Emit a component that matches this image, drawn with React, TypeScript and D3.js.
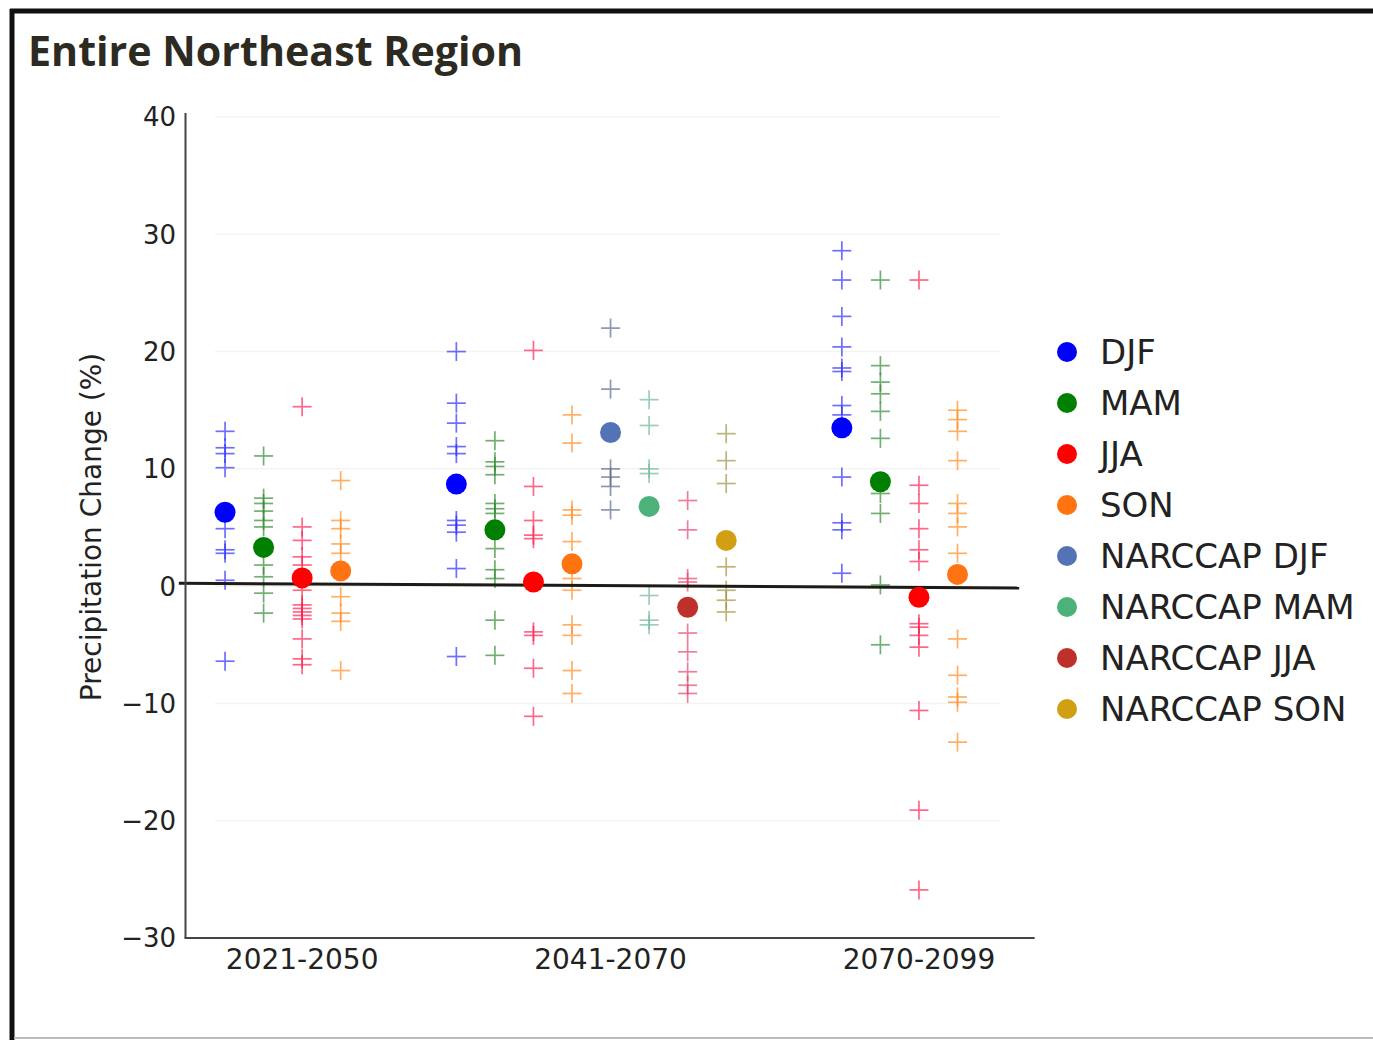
import React from "react";
import * as d3 from "d3";

const periods = ["2021-2050", "2041-2070", "2070-2099"];
const seriesNames = ["DJF", "MAM", "JJA", "SON", "NARCCAP DJF", "NARCCAP MAM", "NARCCAP JJA", "NARCCAP SON"];
const dotColors = ["#0000ff", "#008000", "#ff0000", "#ff7410", "#5473b6", "#4cb27a", "#c0302a", "#d0a012"];
const plusColors = ["#2a2aff", "#2e8a2e", "#ff1f4f", "#ff8a1e", "#5a6488", "#6fb896", "#e8406a", "#a0923a"];
const yTicks = [40, 30, 20, 10, 0, -10, -20, -30];

// ensemble members, per series, per period (null = not present)
const djfMembers = [
  [13.2, 11.8, 11.3, 10.1, 4.9, 3.1, 2.8, 0.5, -6.4],
  [20.0, 15.6, 13.9, 11.9, 11.3, 5.6, 5.2, 4.6, 1.5, -6.0],
  [28.6, 26.1, 23.0, 20.4, 18.6, 18.3, 15.4, 14.6, 9.3, 5.4, 4.8, 1.1],
];
const mamMembers = [
  [11.1, 7.5, 7.05, 6.4, 5.6, 5.05, 1.8, 0.8, -0.6, -2.3],
  [12.4, 10.6, 10.2, 9.5, 7.05, 6.6, 6.2, 3.2, 1.4, 0.65, -2.9, -5.9],
  [26.1, 18.8, 17.4, 16.4, 14.9, 12.6, 7.9, 6.2, 0.1, -5.0],
];
const jjaMembers = [
  [15.3, 5.05, 3.9, 2.5, 1.8, -0.35, -1.6, -1.9, -2.2, -2.5, -2.8, -4.5, -6.2, -6.7],
  [20.1, 8.5, 5.6, 4.35, 4.05, -3.9, -4.2, -7.0, -11.1],
  [26.1, 8.6, 7.05, 4.9, 3.1, 2.1, -3.2, -3.5, -4.2, -5.2, -10.6, -19.1, -25.9],
];
const sonMembers = [
  [9.0, 5.6, 4.9, 3.6, 2.8, -0.9, -2.3, -3.0, -7.2],
  [14.6, 12.2, 6.5, 6.05, 3.8, 0.65, -0.35, -3.3, -4.2, -7.2, -9.15],
  [15.0, 14.2, 13.2, 10.7, 7.05, 6.2, 5.05, 2.8, -4.5, -7.6, -9.45, -9.9, -13.3],
];
const narccapDjfMembers = [null, [22.0, 16.8, 10.0, 9.3, 8.5, 6.5], null];
const narccapMamMembers = [null, [15.9, 13.7, 10.0, 9.6, -0.8, -2.9, -3.3], null];
const narccapJjaMembers = [null, [7.3, 4.8, 0.65, 0.35, -4.0, -5.6, -7.3, -8.45, -9.15], null];
const narccapSonMembers = [null, [13.0, 10.7, 8.75, 1.65, -0.35, -1.2, -2.2], null];

// ensemble means (large dots)
const djfMean = [6.3, 8.7, 13.5];
const mamMean = [3.3, 4.8, 8.9];
const jjaMean = [0.7, 0.35, -0.95];
const sonMean = [1.3, 1.9, 1.0];
const narccapDjfMean = [null, 13.1, null];
const narccapMamMean = [null, 6.8, null];
const narccapJjaMean = [null, -1.8, null];
const narccapSonMean = [null, 3.9, null];

const allMembers = [djfMembers, mamMembers, jjaMembers, sonMembers, narccapDjfMembers, narccapMamMembers, narccapJjaMembers, narccapSonMembers];
const allMeans = [djfMean, mamMean, jjaMean, sonMean, narccapDjfMean, narccapMamMean, narccapJjaMean, narccapSonMean];

const groupStart = [1, 7, 17];

export default function App() {
  const x = d3.scaleLinear().domain([0, 22]).range([186.5, 1034.6]);
  const y = d3.scaleLinear().domain([-30, 40]).range([938, 117]);

  const slots: { period: number; series: number; slot: number }[] = [];
  periods.forEach((_, p) => {
    let k = 0;
    seriesNames.forEach((_, s) => {
      if (allMeans[s][p] !== null) {
        slots.push({ period: p, series: s, slot: groupStart[p] + k });
        k++;
      }
    });
  });
  const tickSlots = periods.map((_, p) => {
    const n = slots.filter((d) => d.period === p).length;
    return groupStart[p] + Math.floor(n / 2);
  });

  const font = "'DejaVu Sans', sans-serif";
  const arm = 9.5;

  return (
    <svg width={1373} height={1040} style={{ position: "absolute", left: 0, top: 0, background: "#fff" }}>
      {/* frame */}
      <line x1={10} x2={1373} y1={11} y2={11} stroke="#111" strokeWidth={5} />
      <line x1={12} x2={12} y1={9} y2={1040} stroke="#111" strokeWidth={5} />
      <line x1={14} x2={1373} y1={1038} y2={1038} stroke="#bbb" strokeWidth={2} />

      <text x={28} y={66} fontFamily="'Open Sans', 'Noto Sans', sans-serif" fontWeight={700} fontSize={41.2} fill="#2d2a22">
        Entire Northeast Region
      </text>

      {/* faint grid */}
      {yTicks.map((t) => (
        <line key={"g" + t} x1={215} x2={1000} y1={y(t)} y2={y(t)} stroke="#f3f3f3" strokeWidth={1.5} />
      ))}

      {/* pluses */}
      {slots.map((d) =>
        (allMembers[d.series][d.period] || []).map((v, i) => (
          <g key={`p${d.series}-${d.period}-${i}`} stroke={plusColors[d.series]} strokeWidth={1.7} opacity={0.68}>
            <line x1={x(d.slot) - arm} x2={x(d.slot) + arm} y1={y(v)} y2={y(v)} />
            <line x1={x(d.slot)} x2={x(d.slot)} y1={y(v) - arm} y2={y(v) + arm} />
          </g>
        ))
      )}

      {/* zero line */}
      <line x1={x(-0.2)} x2={x(21.6)} y1={y(0.25)} y2={y(-0.15)} stroke="#1e1b16" strokeWidth={3} />

      {/* means */}
      {slots.map((d) => (
        <circle key={`m${d.series}-${d.period}`} cx={x(d.slot)} cy={y(allMeans[d.series][d.period] as number)} r={10.5} fill={dotColors[d.series]} />
      ))}

      {/* axes */}
      <line x1={x(0) - 1} x2={x(0) - 1} y1={113} y2={y(-30)} stroke="#444" strokeWidth={2} />
      <line x1={x(0) - 2} x2={x(22)} y1={y(-30)} y2={y(-30)} stroke="#444" strokeWidth={2} />

      {yTicks.map((t) => (
        <text key={"yt" + t} x={176} y={y(t)} dy="0.36em" textAnchor="end" fontFamily={font} fontSize={26} fill="#222">
          {t < 0 ? "\u2212" + Math.abs(t) : t}
        </text>
      ))}
      {periods.map((p, i) => (
        <text key={p} x={x(tickSlots[i])} y={969} textAnchor="middle" fontFamily={font} fontSize={28} fill="#222">
          {p}
        </text>
      ))}
      <text transform="translate(101,527) rotate(-90)" textAnchor="middle" fontFamily={font} fontSize={28} fill="#222">
        Precipitation Change (%)
      </text>

      {/* legend */}
      {seriesNames.map((s, i) => (
        <g key={s} transform={`translate(0,${352 + i * 51})`}>
          <circle cx={1067} cy={0} r={10} fill={dotColors[i]} />
          <text x={1100} y={0} dy="0.36em" fontFamily={font} fontSize={34} fill="#222">
            {s}
          </text>
        </g>
      ))}
    </svg>
  );
}
